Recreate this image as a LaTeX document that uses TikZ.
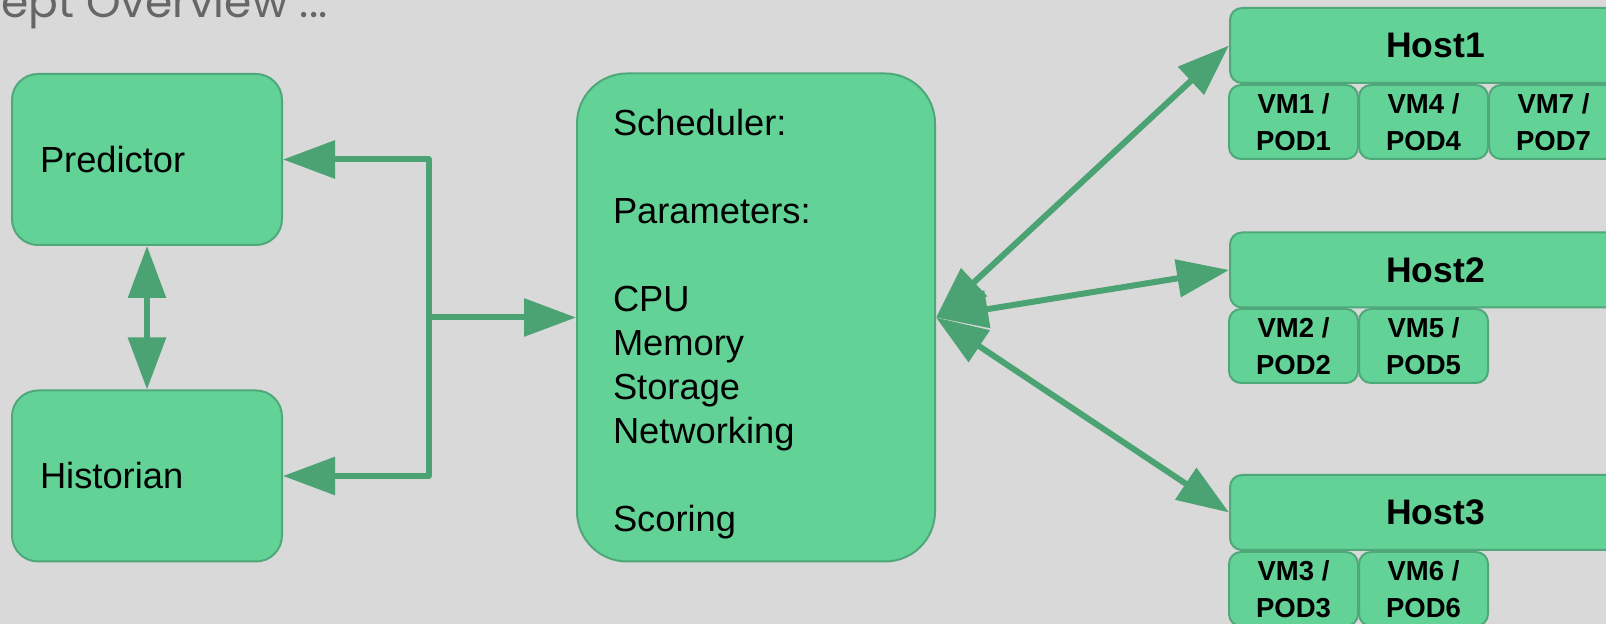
\documentclass[tikz,border=0pt]{standalone}
\usepackage{fontspec}
\setmainfont{Liberation Sans}
\newfontfamily\titlefont{Poppins}
\usetikzlibrary{arrows.meta}
\definecolor{bgc}{HTML}{D9D9D9}
\definecolor{boxfill}{HTML}{63D297}
\definecolor{boxline}{HTML}{4FA87A}
\definecolor{arrc}{HTML}{4BA273}
\definecolor{titlec}{HTML}{666666}
\tikzset{
  greenbox/.style={draw=boxline, fill=boxfill, line width=1pt},
  mainbox/.style={greenbox, rounded corners=13pt, minimum width=135pt, minimum height=85.5pt,
    text width=107pt, inner xsep=14pt, inner ysep=0pt, align=left,
    font=\fontsize{18.15pt}{22pt}\selectfont},
  schedbox/.style={greenbox, rounded corners=25pt, minimum width=179pt, minimum height=244pt,
    text width=143pt, inner xsep=18pt, inner ysep=0pt, align=left,
    font=\fontsize{18.15pt}{22pt}\selectfont},
  hostbox/.style={greenbox, rounded corners=6pt, minimum width=205.5pt, minimum height=37.5pt,
    inner sep=0pt, anchor=west, font=\fontsize{17.75pt}{21pt}\selectfont\bfseries},
  vmbox/.style={greenbox, rounded corners=6pt, minimum width=64.5pt, minimum height=37pt,
    inner sep=0pt, align=center, font=\fontsize{13.75pt}{18.5pt}\selectfont\bfseries},
  conn/.style={draw=arrc, line width=3pt, line join=round},
  bigtip/.tip={Triangle[length=26pt,width=18.5pt]},
}
\begin{document}
\begin{tikzpicture}[x=0.5pt, y=-0.5pt]
\useasboundingbox (0,0) rectangle (1606,624);
\clip (0,0) rectangle (1606,624);
\fill[bgc] (0,0) rectangle (1606,624);

\node[anchor=base east, inner sep=0pt, text=titlec, font=\titlefont\fontsize{22pt}{26pt}\selectfont] (title) at (328,18) {Concept Overview ...};

\node[mainbox] (pred) at (147,159.5) {Predictor};
\node[mainbox] (hist) at (147,476) {Historian};

\node[schedbox] (sched) at (756,317.5) {\rule{0pt}{19.5pt}Scheduler:\\[22pt]Parameters:\\[22pt]CPU\\Memory\\Storage\\Networking\\[22pt]Scoring};

\node[hostbox] (h1) at (1229,45.5) {\makebox[188.5pt]{Host1}\hspace{17pt}};
\node[hostbox] (h2) at (1229,270) {\makebox[188.5pt]{Host2}\hspace{17pt}};
\node[hostbox] (h3) at (1229,512.5) {\makebox[188.5pt]{Host3}\hspace{17pt}};

\node[vmbox] (vm1) at (1293.5,122) {VM1 /\\POD1};
\node[vmbox] (vm4) at (1423.5,122) {VM4 /\\POD4};
\node[vmbox] (vm7) at (1553.5,122) {VM7 /\\POD7};
\node[vmbox] (vm2) at (1293.5,346) {VM2 /\\POD2};
\node[vmbox] (vm5) at (1423.5,346) {VM5 /\\POD5};
\node[vmbox] (vm3) at (1293.5,589) {VM3 /\\POD3};
\node[vmbox] (vm6) at (1423.5,589) {VM6 /\\POD6};

\coordinate (jm) at (428.6,317.5);

\draw[conn, {bigtip}-{bigtip}] (pred.south) -- (hist.north);
\draw[conn, {bigtip}-{bigtip}] (pred.east) -- (pred.east -| jm) -- (hist.east -| jm) -- (hist.east);
\draw[conn, -{bigtip}] (jm) -- (sched.west);

\draw[conn, {bigtip}-{bigtip}] (sched.east) -- (h1.west);
\draw[conn, {bigtip}-{bigtip}] (sched.east) -- (h2.west);
\draw[conn, {bigtip}-{bigtip}] (sched.east) -- (h3.west);
\end{tikzpicture}
\end{document}
